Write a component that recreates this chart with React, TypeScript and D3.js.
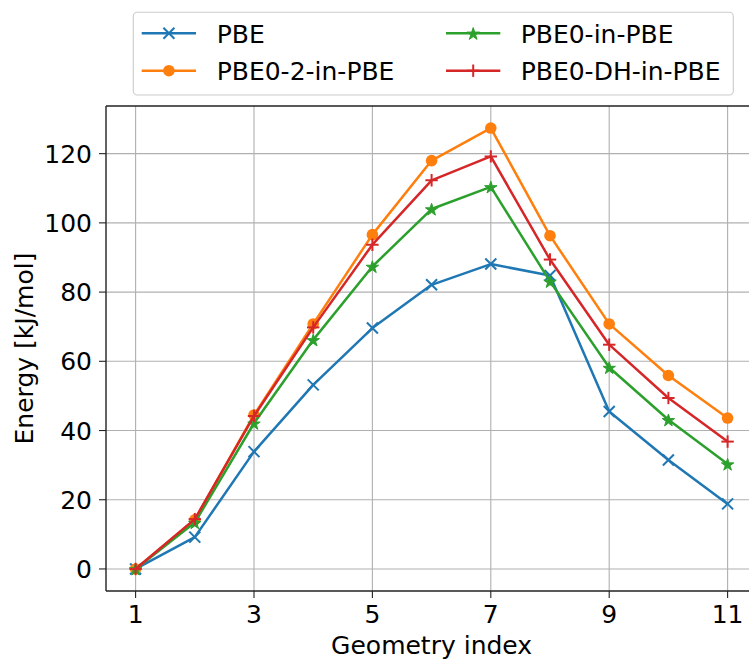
import React from "react";
import * as d3 from "d3";

const geometry = [1, 2, 3, 4, 5, 6, 7, 8, 9, 10, 11];
const pbe = [0, 9.2, 33.9, 53.2, 69.6, 82.1, 88.1, 84.8, 45.5, 31.5, 18.8];
const pbe02 = [0, 14.2, 44.5, 70.8, 96.6, 118.0, 127.4, 96.3, 70.8, 55.9, 43.6];
const pbe0 = [0, 13.4, 42.1, 66.2, 87.4, 104.0, 110.4, 83.1, 58.2, 43.1, 30.3];
const pbe0dh = [0, 14.4, 44.2, 69.8, 93.7, 112.3, 119.2, 89.4, 64.8, 49.4, 36.8];
const xTicks = [1, 3, 5, 7, 9, 11];
const yTicks = [0, 20, 40, 60, 80, 100, 120];

type SeriesDef = { name: string; values: number[]; color: string; marker: string };
const series: SeriesDef[] = [
  { name: "PBE", values: pbe, color: "#1f77b4", marker: "x" },
  { name: "PBE0-2-in-PBE", values: pbe02, color: "#ff7f0e", marker: "o" },
  { name: "PBE0-in-PBE", values: pbe0, color: "#2ca02c", marker: "*" },
  { name: "PBE0-DH-in-PBE", values: pbe0dh, color: "#d62728", marker: "+" },
];

const W = 749;
const H = 659;
const left = 106;
const right = 757.2;
const top = 106;
const bottom = 591;
const FONT = "DejaVu Sans, sans-serif";

const starPath = d3.symbol().type(d3.symbolStar).size(48)() as string;

function Marker({ kind, x, y, color }: { kind: string; x: number; y: number; color: string }) {
  if (kind === "o") return <circle cx={x} cy={y} r={5.8} fill={color} />;
  if (kind === "*")
    return <path d={starPath} transform={`translate(${x},${y + 0.8})`} fill={color} stroke={color} strokeWidth={1} />;
  if (kind === "x") {
    const s = 5.5;
    return (
      <g stroke={color} strokeWidth={2}>
        <line x1={x - s} y1={y - s} x2={x + s} y2={y + s} />
        <line x1={x - s} y1={y + s} x2={x + s} y2={y - s} />
      </g>
    );
  }
  const s = 6.2;
  return (
    <g stroke={color} strokeWidth={2}>
      <line x1={x - s} y1={y} x2={x + s} y2={y} />
      <line x1={x} y1={y - s} x2={x} y2={y + s} />
    </g>
  );
}

export default function App() {
  const x = d3.scaleLinear().domain([0.5, 11.5]).range([left, right]);
  const y = d3.scaleLinear().domain([-6.37, 133.77]).range([bottom, top]);
  const line = d3
    .line<number>()
    .x((_, i) => x(geometry[i]))
    .y((d) => y(d));

  const legendCols = [
    { lx: 141.7, tx: 216.7 },
    { lx: 446, tx: 520.7 },
  ];
  const legendRows = [33.3, 70.7];

  return (
    <svg
      width={W}
      height={H}
      style={{ position: "absolute", left: 0, top: 0, background: "#fff" }}
      fontFamily={FONT}
    >
      <defs>
        <clipPath id="plotclip">
          <rect x={left} y={top} width={right - left} height={bottom - top} />
        </clipPath>
      </defs>
      <rect x={0} y={0} width={W} height={H} fill="#fff" />
      {/* grid */}
      <g stroke="#b0b0b0" strokeWidth={1.1}>
        {xTicks.map((t) => (
          <line key={"gx" + t} x1={x(t)} x2={x(t)} y1={top} y2={bottom} />
        ))}
        {yTicks.map((t) => (
          <line key={"gy" + t} x1={left} x2={right} y1={y(t)} y2={y(t)} />
        ))}
      </g>
      {/* series */}
      <g clipPath="url(#plotclip)">
        {series.map((s) => (
          <g key={s.name}>
            <path d={line(s.values) as string} fill="none" stroke={s.color} strokeWidth={2.5} strokeLinejoin="round" />
            {s.values.map((v, i) => (
              <Marker key={i} kind={s.marker} x={x(geometry[i])} y={y(v)} color={s.color} />
            ))}
          </g>
        ))}
      </g>
      {/* spines */}
      <g stroke="#222" strokeWidth={1.4} fill="none">
        <line x1={left} x2={left} y1={top} y2={bottom} />
        <line x1={left} x2={right} y1={bottom} y2={bottom} />
        <line x1={left} x2={right} y1={top} y2={top} />
        <line x1={right} x2={right} y1={top} y2={bottom} />
      </g>
      {/* ticks */}
      <g stroke="#222" strokeWidth={1.1}>
        {xTicks.map((t) => (
          <line key={"tx" + t} x1={x(t)} x2={x(t)} y1={bottom} y2={bottom + 7} />
        ))}
        {yTicks.map((t) => (
          <line key={"ty" + t} x1={left - 7} x2={left} y1={y(t)} y2={y(t)} />
        ))}
      </g>
      <g fontSize={25} fill="#000">
        {xTicks.map((t) => (
          <text key={"lx" + t} x={x(t)} y={bottom + 32} textAnchor="middle">
            {t}
          </text>
        ))}
        {yTicks.map((t) => (
          <text key={"ly" + t} x={92} y={y(t) + 9.1} textAnchor="end">
            {t}
          </text>
        ))}
        <text x={(left + right) / 2} y={654} textAnchor="middle">
          Geometry index
        </text>
        <text transform={`translate(32.5,${(top + bottom) / 2}) rotate(-90)`} textAnchor="middle">
          Energy [kJ/mol]
        </text>
      </g>
      {/* legend */}
      <rect x={133.3} y={12.3} width={600} height={82.7} rx={4} ry={4} fill="#fff" fillOpacity={0.8} stroke="#cccccc" strokeWidth={1.1} />
      {series.map((s, i) => {
        const col = legendCols[Math.floor(i / 2)];
        const ry = legendRows[i % 2];
        return (
          <g key={"leg" + s.name}>
            <line x1={col.lx} x2={col.lx + 54.3} y1={ry} y2={ry} stroke={s.color} strokeWidth={2.5} />
            <Marker kind={s.marker} x={col.lx + 27.2} y={ry} color={s.color} />
            <text x={col.tx} y={ry + 9.2} fontSize={25} fill="#000">
              {s.name}
            </text>
          </g>
        );
      })}
    </svg>
  );
}
